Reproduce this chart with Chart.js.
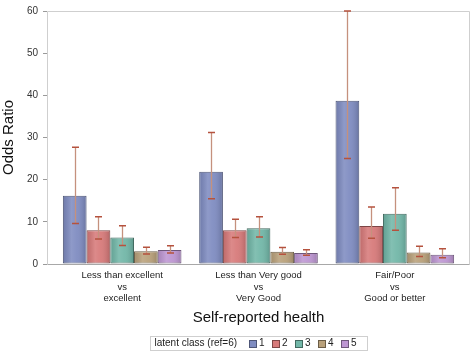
<!DOCTYPE html>
<html>
<head>
<meta charset="utf-8">
<script src="https://cdn.jsdelivr.net/npm/chart.js@4.4.1/dist/chart.umd.min.js"></script>
<style>
  html, body { margin: 0; padding: 0; background: #fff; }
  #wrap { width: 472px; height: 351px; position: relative; }
</style>
</head>
<body>
<div id="wrap"><canvas id="chart"></canvas></div>
<script>
// categories (x axis) and latent classes (series)
const healthGroups = [
  ['Less than excellent', 'vs', 'excellent'],
  ['Less than Very good', 'vs', 'Very Good'],
  ['Fair/Poor', 'vs', 'Good or better']
];
const latentClasses = ['1', '2', '3', '4', '5'];

// odds ratio per latent class, one value per health group
const oddsRatio = [
  [16.2, 21.9, 38.7],
  [8.0, 8.0, 9.0],
  [6.3, 8.5, 11.9],
  [3.0, 2.9, 2.7],
  [3.3, 2.6, 2.2]
];
// confidence limits
const ciLower = [
  [9.6, 15.5, 25.0],
  [5.9, 6.3, 6.1],
  [4.4, 6.4, 8.0],
  [2.4, 2.3, 1.8],
  [2.6, 2.1, 1.5]
];
const ciUpper = [
  [27.7, 31.2, 60.0],
  [11.2, 10.6, 13.5],
  [9.1, 11.2, 18.1],
  [4.0, 3.9, 4.2],
  [4.3, 3.4, 3.6]
];

const yTicks = [0, 10, 20, 30, 40, 50, 60];

const fillColors = ['#7f8cc1', '#d77a7a', '#72b7a8', '#b9a17b', '#bd96d2'];
const edgeColors = ['#4e5677', '#7d4646', '#42695f', '#6b5d47', '#6d577a'];

const FONT = '"Liberation Sans", Arial, sans-serif';
Chart.defaults.font.family = FONT;

// pull the category band in a little from the frame, like the original
const insetPlugin = {
  id: 'inset',
  afterLayout(chart) {
    const xs = chart.scales.x;
    const inset = 7;
    xs._startPixel += inset;
    xs._endPixel -= inset;
    xs._length -= inset * 2;
  }
};

// plot frame
const framePlugin = {
  id: 'frame',
  afterDatasetsDraw(chart) {
    const { ctx, chartArea: a } = chart;
    ctx.save();
    ctx.lineWidth = 1;
    ctx.strokeStyle = '#cfcfcf';
    const l = Math.round(a.left) + 0.5, t = Math.round(a.top) + 0.5;
    const r = Math.round(a.right) - 0.5, b = Math.round(a.bottom) + 0.5;
    ctx.beginPath();
    ctx.moveTo(l, b); ctx.lineTo(l, t); ctx.lineTo(r, t); ctx.lineTo(r, b);
    ctx.stroke();
    ctx.strokeStyle = '#a8a8a8';
    ctx.beginPath();
    ctx.moveTo(l, b); ctx.lineTo(r, b);
    ctx.stroke();
    ctx.restore();
  }
};

// soft shading on the bars plus the error bars
const errorBarPlugin = {
  id: 'errorBars',
  afterDatasetsDraw(chart) {
    const { ctx } = chart;
    const ys = chart.scales.y;
    ctx.save();
    chart.data.datasets.forEach((ds, di) => {
      const meta = chart.getDatasetMeta(di);
      meta.data.forEach((bar) => {
        const x0 = bar.x - bar.width / 2 + 1, x1 = bar.x + bar.width / 2 - 1;
        const g = ctx.createLinearGradient(x0, 0, x1, 0);
        g.addColorStop(0, 'rgba(0,0,0,0.10)');
        g.addColorStop(0.35, 'rgba(255,255,255,0.12)');
        g.addColorStop(0.6, 'rgba(255,255,255,0.05)');
        g.addColorStop(1, 'rgba(0,0,0,0.14)');
        ctx.fillStyle = g;
        ctx.fillRect(x0, bar.y + 1, x1 - x0, bar.base - bar.y - 1);
      });
    });
    chart.data.datasets.forEach((ds, di) => {
      const meta = chart.getDatasetMeta(di);
      meta.data.forEach((bar, i) => {
        const yLo = ys.getPixelForValue(ciLower[di][i]);
        const yHi = ys.getPixelForValue(ciUpper[di][i]);
        const x = Math.round(bar.x) + 0.5;
        ctx.lineWidth = 1.3;
        ctx.strokeStyle = '#c5917d';
        ctx.beginPath();
        ctx.moveTo(x, yLo); ctx.lineTo(x, yHi);
        ctx.stroke();
        ctx.lineWidth = 1.5;
        ctx.strokeStyle = '#b5523e';
        ctx.beginPath();
        ctx.moveTo(x - 3.5, yLo); ctx.lineTo(x + 3.5, yLo);
        ctx.moveTo(x - 3.5, yHi); ctx.lineTo(x + 3.5, yHi);
        ctx.stroke();
      });
    });
    ctx.restore();
  }
};

// boxed legend in one row under the axis title
const legendPlugin = {
  id: 'boxLegend',
  afterDraw(chart) {
    const { ctx } = chart;
    const title = 'latent class (ref=6)';
    ctx.save();
    ctx.font = '10px ' + FONT;
    ctx.textBaseline = 'middle';
    const padL = 4, padR = 11, afterTitle = 12, box = 7, boxGap = 3, itemGap = 7.4;
    let w = padL + ctx.measureText(title).width + afterTitle;
    chart.data.datasets.forEach((ds, i) => {
      w += box + boxGap + ctx.measureText(ds.label).width;
      if (i < chart.data.datasets.length - 1) w += itemGap;
    });
    w += padR;
    const xs = chart.scales.x;
    const cx = (xs.left + xs.right) / 2;
    const left = Math.round(cx - w / 2) + 0.5;
    const top = 336.5, h = 14;
    ctx.strokeStyle = '#cfcfcf';
    ctx.lineWidth = 1;
    ctx.strokeRect(left, top, Math.round(w), h);
    const cy = top + h / 2;
    let x = left + padL;
    ctx.fillStyle = '#222';
    ctx.fillText(title, x, cy);
    x += ctx.measureText(title).width + afterTitle;
    chart.data.datasets.forEach((ds, i) => {
      const bx = Math.round(x) + 0.5, by = Math.round(cy - box / 2) + 0.5;
      ctx.fillStyle = ds.backgroundColor;
      ctx.fillRect(bx, by, box, box);
      ctx.strokeStyle = ds.borderColor;
      ctx.strokeRect(bx, by, box, box);
      x += box + boxGap;
      ctx.fillStyle = '#222';
      ctx.fillText(ds.label, x, cy);
      x += ctx.measureText(ds.label).width + itemGap;
    });
    ctx.restore();
  }
};

const datasets = latentClasses.map((name, i) => ({
  label: name,
  data: oddsRatio[i],
  backgroundColor: fillColors[i],
  borderColor: edgeColors[i],
  borderWidth: 1,
  borderSkipped: false,
  categoryPercentage: 0.87,
  barPercentage: 1.0
}));

new Chart(document.getElementById('chart'), {
  type: 'bar',
  data: { labels: healthGroups, datasets: datasets },
  plugins: [insetPlugin, framePlugin, errorBarPlugin, legendPlugin],
  options: {
    responsive: true,
    maintainAspectRatio: false,
    animation: false,
    layout: { padding: { top: 6, right: 2, bottom: 0, left: 0 } },
    plugins: {
      legend: { display: false },
      tooltip: { enabled: false }
    },
    scales: {
      x: {
        grid: { display: true, drawOnChartArea: false, drawTicks: false, color: 'rgba(0,0,0,0)' },
        border: { display: false },
        ticks: { font: { size: 9.5 }, color: '#222', padding: 6, maxRotation: 0, autoSkip: false },
        title: {
          display: true,
          text: 'Self-reported health',
          font: { size: 15 },
          color: '#111',
          padding: { top: 4, bottom: 24 }
        },
        afterFit(scale) { scale.height = 87; }
      },
      y: {
        min: 0,
        max: 60,
        afterBuildTicks(scale) { scale.ticks = yTicks.map(v => ({ value: v })); },
        grid: { drawOnChartArea: false, drawTicks: true, tickLength: 4, color: '#9a9a9a' },
        border: { display: false },
        ticks: { font: { size: 10 }, color: '#333', padding: 5 },
        title: {
          display: true,
          text: 'Odds Ratio',
          font: { size: 15 },
          color: '#111',
          padding: { top: 0, bottom: 0 }
        },
        afterFit(scale) { scale.width = 47; }
      }
    }
  }
});
</script>
</body>
</html>
